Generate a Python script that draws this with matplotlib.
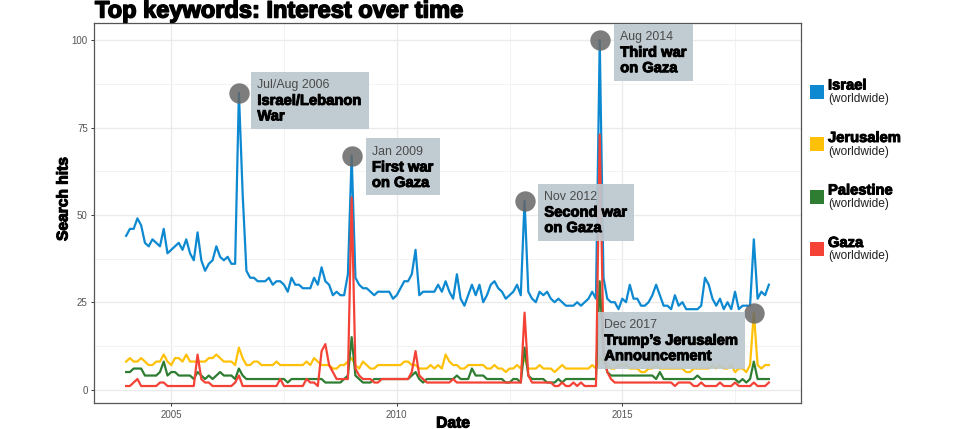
import matplotlib
matplotlib.use('Agg')
import matplotlib.pyplot as plt
from matplotlib.patches import Rectangle
from matplotlib.transforms import Affine2D, ScaledTranslation
import matplotlib.patheffects as pe
import numpy as np

# ---------------- data (monthly, Jan 2004 .. Apr 2018) ----------------
start_year = 2004
israel = [44, 46, 46, 49, 47, 42, 41, 43, 42, 41,
          46, 39, 40, 41, 42, 40, 43, 39, 37, 45,
          37, 34, 36, 37, 41, 38, 37, 38, 36, 36,
          85, 56, 34, 32, 32, 31, 31, 31, 32, 30,
          31, 31, 30, 28, 32, 30, 30, 29, 29, 29,
          32, 30, 35, 31, 30, 27, 28, 27, 27, 33,
          67, 32, 30, 29, 29, 28, 27, 28, 28, 28,
          28, 26, 27, 29, 31, 31, 33, 40, 27, 28,
          28, 28, 28, 30, 28, 31, 28, 26, 33, 26,
          24, 27, 30, 27, 30, 25, 27, 30, 31, 29,
          28, 26, 27, 28, 30, 27, 54, 28, 26, 25,
          28, 27, 28, 26, 25, 26, 25, 24, 24, 24,
          25, 24, 25, 26, 28, 26, 100, 32, 26, 25,
          25, 23, 26, 25, 30, 26, 26, 24, 24, 25,
          27, 30, 27, 24, 24, 23, 27, 24, 25, 23,
          23, 23, 23, 24, 32, 30, 26, 24, 26, 23,
          25, 23, 28, 23, 24, 24, 24, 43, 26, 28,
          27, 30]
jerusalem = [8, 9, 8, 8, 9, 8, 7, 7, 8, 8,
             10, 8, 7, 9, 9, 8, 10, 8, 8, 8,
             8, 8, 9, 9, 10, 9, 8, 8, 8, 7,
             12, 9, 7, 7, 8, 8, 7, 7, 7, 7,
             8, 7, 7, 7, 7, 7, 7, 7, 8, 7,
             9, 8, 7, 7, 7, 6, 6, 7, 7, 8,
             9, 7, 6, 8, 7, 6, 6, 7, 7, 7,
             7, 7, 7, 7, 8, 8, 7, 7, 6, 6,
             6, 7, 6, 7, 6, 10, 8, 7, 7, 6,
             6, 7, 7, 7, 7, 7, 6, 6, 7, 6,
             6, 5, 6, 6, 7, 6, 9, 6, 6, 6,
             7, 6, 6, 6, 5, 6, 7, 6, 6, 6,
             6, 6, 6, 6, 7, 6, 9, 8, 7, 6,
             6, 7, 7, 7, 6, 6, 6, 5, 5, 6,
             6, 7, 6, 6, 6, 6, 6, 6, 6, 5,
             5, 6, 6, 6, 6, 6, 7, 6, 7, 6,
             6, 7, 5, 6, 6, 5, 7, 22, 7, 6,
             7, 7]
palestine = [5, 5, 6, 6, 6, 4, 4, 4, 4, 5,
             8, 4, 5, 5, 4, 4, 4, 4, 3, 5,
             4, 3, 4, 3, 4, 5, 4, 4, 4, 3,
             6, 4, 3, 3, 3, 3, 3, 3, 3, 3,
             3, 3, 3, 2, 3, 3, 3, 3, 3, 3,
             3, 3, 3, 2, 2, 2, 2, 2, 3, 4,
             15, 4, 3, 2, 2, 2, 3, 3, 3, 3,
             3, 3, 3, 3, 3, 3, 4, 5, 3, 2,
             3, 3, 3, 3, 3, 3, 3, 3, 4, 3,
             3, 3, 6, 4, 4, 4, 3, 3, 3, 3,
             3, 2, 2, 3, 3, 2, 12, 4, 3, 3,
             3, 3, 2, 2, 2, 3, 2, 3, 3, 3,
             3, 3, 3, 3, 3, 3, 31, 10, 5, 4,
             4, 4, 4, 4, 4, 4, 4, 4, 4, 4,
             4, 3, 5, 3, 3, 3, 3, 3, 3, 3,
             3, 3, 4, 3, 3, 3, 3, 3, 3, 3,
             3, 3, 3, 2, 3, 2, 3, 8, 3, 3,
             3, 3]
gaza = [1, 1, 2, 3, 1, 1, 1, 1, 1, 2,
        2, 1, 1, 1, 1, 1, 1, 1, 1, 10,
        3, 2, 2, 1, 1, 1, 1, 1, 1, 2,
        4, 1, 1, 1, 1, 1, 1, 1, 1, 1,
        1, 3, 1, 1, 1, 1, 1, 1, 3, 2,
        2, 1, 11, 13, 7, 5, 3, 3, 3, 3,
        55, 6, 4, 3, 3, 3, 2, 2, 3, 3,
        3, 3, 3, 3, 3, 3, 5, 11, 4, 3,
        2, 2, 2, 2, 2, 2, 2, 3, 2, 2,
        2, 2, 2, 2, 2, 2, 2, 2, 2, 2,
        2, 2, 2, 2, 2, 2, 22, 4, 2, 2,
        2, 2, 2, 2, 1, 1, 2, 1, 1, 2,
        1, 2, 1, 1, 1, 1, 73, 12, 5, 3,
        2, 2, 2, 2, 2, 2, 2, 2, 2, 2,
        2, 2, 2, 2, 2, 2, 1, 2, 2, 2,
        2, 1, 1, 2, 1, 1, 1, 1, 2, 1,
        1, 1, 2, 1, 1, 1, 1, 2, 1, 1,
        1, 2]

series_names = ['Israel', 'Jerusalem', 'Palestine', 'Gaza']
series_sub = '(worldwide)'
series_vals = [israel, jerusalem, palestine, gaza]
colors = ['#0d89d1', '#ffc107', '#2e7d32', '#f44336']

x_ticks = [2005, 2010, 2015]
x_tick_labels = ['2005', '2010', '2015']
y_ticks = [0, 25, 50, 75, 100]
y_tick_labels = ['0', '25', '50', '75', '100']

# events: month index, series index, date label, title
event_idx = [30, 60, 106, 126, 167]
event_series = [0, 0, 0, 0, 1]
event_dates = ['Jul/Aug 2006', 'Jan 2009', 'Nov 2012', 'Aug 2014', 'Dec 2017']
event_titles = ['Israel/Lebanon\nWar', 'First war\non Gaza', 'Second war\non Gaza',
                'Third war\non Gaza', 'Trump\u2019s Jerusalem\nAnnouncement']

title = 'Top keywords: Interest over time'
x_label = 'Date'
y_label = 'Search hits'

# ---------------- figure ----------------
W, H = 960, 429
DPI = 100
fig = plt.figure(figsize=(W / DPI, H / DPI), dpi=DPI)
fig.patch.set_facecolor('white')


def heavy(stroke):
    return {'family': ['Liberation Sans', 'DejaVu Sans'], 'fontweight': 'bold',
            'path_effects': [pe.withStroke(linewidth=stroke, foreground='black')]}


REG = {'family': ['Liberation Sans', 'DejaVu Sans']}

L, R, T, B = 94, 801, 23, 403.3
ax = fig.add_axes([L / W, (H - B) / H, (R - L) / W, (B - T) / H])

n = len(israel)
x = start_year + np.arange(n) / 12.0

for vals, c in zip(series_vals, colors):
    ax.plot(x, vals, color=c, lw=1.6, solid_joinstyle='round', zorder=3)

ax.set_xticks(x_ticks)
ax.set_xticklabels(x_tick_labels)
ax.set_xticks([2007.5, 2012.5, 2017.5], minor=True)
ax.set_yticks(y_ticks)
ax.set_yticklabels(y_tick_labels)
ax.set_yticks([12.5, 37.5, 62.5, 87.5], minor=True)

xr = x[-1] - x[0]
ax.set_xlim(x[0] - 0.05 * xr, x[-1] + 0.05 * xr)
allv = np.concatenate([np.asarray(v) for v in series_vals])
yr = allv.max() - allv.min()
ax.set_ylim(allv.min() - 0.05 * yr, allv.max() + 0.05 * yr)

ax.grid(which='major', color='#ebebeb', lw=1.0, zorder=0)
ax.grid(which='minor', color='#f3f3f3', lw=0.7, zorder=0)
ax.set_axisbelow(True)
ax.tick_params(which='major', length=2.5, width=0.7, color='#333333', pad=2,
               labelsize=7, labelcolor='#555555')
ax.tick_params(which='minor', length=0)
for lbl in ax.get_xticklabels() + ax.get_yticklabels():
    lbl.set_family(['Liberation Sans', 'DejaVu Sans'])
for s in ax.spines.values():
    s.set_color('#555555')
    s.set_linewidth(0.9)

# ---------------- annotations ----------------
fig.canvas.draw()
renderer = fig.canvas.get_renderer()

box_dx = [12.5, 14.3, 13.8, 14.5, -9.0]    # px from peak (left edge, or right edge if negative)
box_top = [20.8, 17.1, 17.4, 16.6, 1.0]     # px above peak
pad_x, pad_top, line_gap, pad_bot = 6.0, 13.5, 15.5, 12.5

for i, (mi, si) in enumerate(zip(event_idx, event_series)):
    xv = x[mi]
    yv = series_vals[si][mi]
    ax.scatter([xv], [yv], s=215, color='#666666', alpha=0.85, linewidths=0, zorder=6)
    lines = event_titles[i].split('\n')
    t_date = ax.annotate(event_dates[i], xy=(xv, yv), xytext=(0, 0), textcoords='offset pixels',
                         ha='left', va='center', fontsize=8.9, color='#4a4a4a', zorder=8, **REG)
    t_lines = [ax.annotate(s, xy=(xv, yv), xytext=(0, 0), textcoords='offset pixels',
                           ha='left', va='center', fontsize=10.6, color='black', zorder=8,
                           **heavy(0.7)) for s in lines]
    widths = [t.get_window_extent(renderer).width for t in [t_date] + t_lines]
    bw = max(widths) + 2 * pad_x + 1
    bh = pad_top + line_gap * len(lines) + pad_bot
    left = box_dx[i] if box_dx[i] > 0 else box_dx[i] - bw
    top = box_top[i]
    tr = Affine2D() + ScaledTranslation(xv, yv, ax.transData)
    rect = Rectangle((left, top - bh), bw, bh, transform=tr, facecolor='#bcc8cf',
                     edgecolor='none', alpha=0.92, zorder=7, clip_on=False)
    ax.add_artist(rect)
    t_date.xyann = (left + pad_x, top - pad_top)
    for k, t in enumerate(t_lines):
        t.xyann = (left + pad_x, top - pad_top - line_gap * (k + 1))

# ---------------- titles ----------------
fig.text(95 / W, 1 - 17.5 / H, title, ha='left', va='baseline', fontsize=17, color='black',
         **heavy(1.1))
fig.text(453 / W, 1 - 423 / H, x_label, ha='center', va='center', fontsize=11.2, color='black',
         **heavy(0.8))
fig.text(63 / W, 1 - 199 / H, y_label, ha='center', va='center', rotation=90, fontsize=11.2,
         color='black', **heavy(0.8))

# ---------------- legend ----------------
for k, (name, c) in enumerate(zip(series_names, colors)):
    yc = 91.5 + 52.5 * k
    fig.patches.append(Rectangle((810 / W, 1 - (yc + 7) / H), 14 / W, 14 / H,
                                 transform=fig.transFigure, facecolor=c, edgecolor='none'))
    fig.text(828 / W, 1 - (yc - 6) / H, name, ha='left', va='center', fontsize=10.6,
             color='black', **heavy(0.7))
    fig.text(828 / W, 1 - (yc + 7.5) / H, series_sub, ha='left', va='center', fontsize=8.6,
             color='#222222', **REG)

fig.savefig('out.png', dpi=DPI)
